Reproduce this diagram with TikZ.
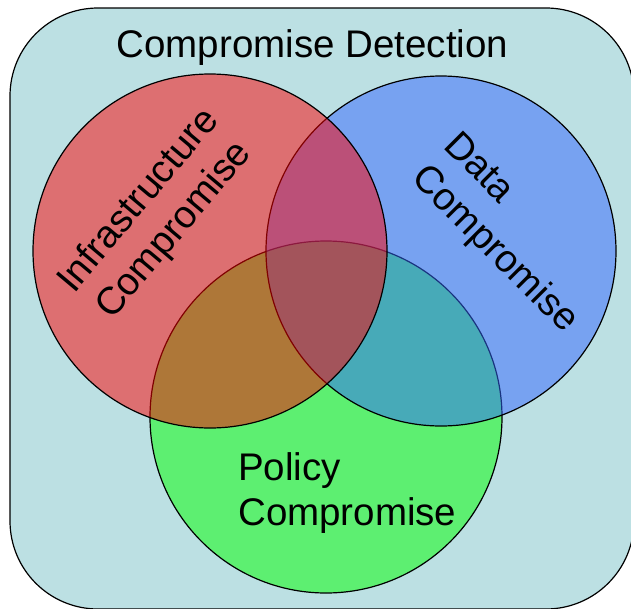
\documentclass[tikz,border=0pt]{standalone}
\usepackage{fontspec}
\setmainfont{Liberation Sans}
\definecolor{bgc}{RGB}{188,224,227}
\definecolor{redc}{RGB}{255,0,0}
\definecolor{bluec}{RGB}{51,102,255}
\definecolor{greenc}{RGB}{0,255,0}
\tikzset{
  venn/.style={draw=black, line width=1.2pt, fill opacity=0.5},
  lbl/.style={font=\fontsize{38.5}{46}\selectfont, inner sep=0pt, text=black}
}
\begin{document}
\begin{tikzpicture}[x=1pt,y=-1pt]
\useasboundingbox (0,0) rectangle (631,608);
\draw[fill=bgc, line width=1.2pt, rounded corners=88pt] (10,8) rectangle (634,609);
\node[lbl, anchor=base] (title) at (312.5,57) {Compromise Detection};
\draw[venn, fill=greenc] (326,417) circle[radius=176];
\draw[venn, fill=bluec] (441,251) circle[radius=175];
\draw[venn, fill=redc] (210,251) circle[radius=177];
\node[lbl, align=center, rotate=50] (infra) at (157,216) {Infrastructure\\Compromise};
\node[lbl, align=left, rotate=-45] (data) at (510,234) {Data\\Compromise};
\node[lbl, anchor=base west] (pol1) at (238,480) {Policy};
\node[lbl, anchor=base west] (pol2) at (238,525) {Compromise};
\end{tikzpicture}
\end{document}
